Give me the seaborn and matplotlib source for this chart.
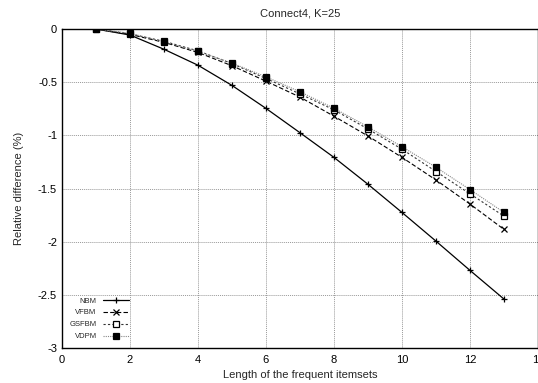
import numpy as np
import pandas as pd
import seaborn as sns
import matplotlib
matplotlib.use("Agg")
import matplotlib.pyplot as plt

lengths = [1, 2, 3, 4, 5, 6, 7, 8, 9, 10, 11, 12, 13]
nbm = [0, -0.056, -0.19, -0.34, -0.53, -0.746, -0.975, -1.207, -1.46, -1.725, -1.995, -2.27, -2.54]
vfbm = [0, -0.05, -0.125, -0.22, -0.345, -0.49, -0.64, -0.82, -1.006, -1.207, -1.42, -1.646, -1.885]
gsfbm = [0, -0.045, -0.115, -0.205, -0.325, -0.465, -0.61, -0.76, -0.94, -1.13, -1.34, -1.55, -1.76]
vdpm = [0, -0.04, -0.12, -0.21, -0.32, -0.45, -0.59, -0.745, -0.92, -1.107, -1.30, -1.51, -1.725]
series_names = ["NBM", "VFBM", "GSFBM", "VDPM"]

sns.set_theme(style="white")
plt.rcParams['font.family'] = ['Liberation Sans', 'DejaVu Sans']

fig = plt.figure(figsize=(5.38, 3.83), dpi=100)
ax = fig.add_axes([0.115, 0.0914, 0.885, 0.8328])

styles = {
    "NBM": dict(linestyle="-", marker="+", color="black", markersize=5, markeredgecolor="black", markeredgewidth=0.9, lw=0.9),
    "VFBM": dict(linestyle=(0, (4, 2)), marker="x", color="black", markersize=4.5, markeredgecolor="black", markeredgewidth=0.9, lw=0.8),
    "GSFBM": dict(linestyle=(0, (2, 2)), marker="s", color="#333333", markersize=3.8, markerfacecolor="white", markeredgecolor="black", markeredgewidth=0.9, lw=0.8),
    "VDPM": dict(linestyle=(0, (1, 1)), marker="s", color="#888888", markersize=3.8, markerfacecolor="black", markeredgecolor="black", markeredgewidth=0.9, lw=0.8),
}
data = {"NBM": nbm, "VFBM": vfbm, "GSFBM": gsfbm, "VDPM": vdpm}
for name in series_names:
    df = pd.DataFrame({"x": lengths, "y": data[name]})
    sns.lineplot(data=df, x="x", y="y", ax=ax, label=name, **styles[name])

ax.set_xlim(0, 14)
ax.set_ylim(-3, 0)
ax.set_xticks([0, 2, 4, 6, 8, 10, 12, 14])
ax.set_yticks([0, -0.5, -1, -1.5, -2, -2.5, -3])
ax.set_yticklabels(["0", "-0.5", "-1", "-1.5", "-2", "-2.5", "-3"])
ax.grid(True, color="#999999", linestyle=(0, (1, 1)), linewidth=0.7)
ax.tick_params(direction="in", length=4, labelsize=8, colors="black", width=0.8)
ax.tick_params(axis="x", pad=5)
for s in ax.spines.values():
    s.set_color("black")
    s.set_linewidth(1.0)
ax.set_xlabel("Length of the frequent itemsets", fontsize=8)
ax.set_ylabel("Relative difference (%)", fontsize=8, labelpad=10)
ax.set_title("Connect4, K=25", fontsize=8, pad=9)
leg = ax.legend(loc="lower left", fontsize=5.5, frameon=False, markerfirst=False,
                handlelength=3.5, borderaxespad=0.6, labelspacing=0.6, handletextpad=0.8)
fig.savefig("out.png", dpi=100)
